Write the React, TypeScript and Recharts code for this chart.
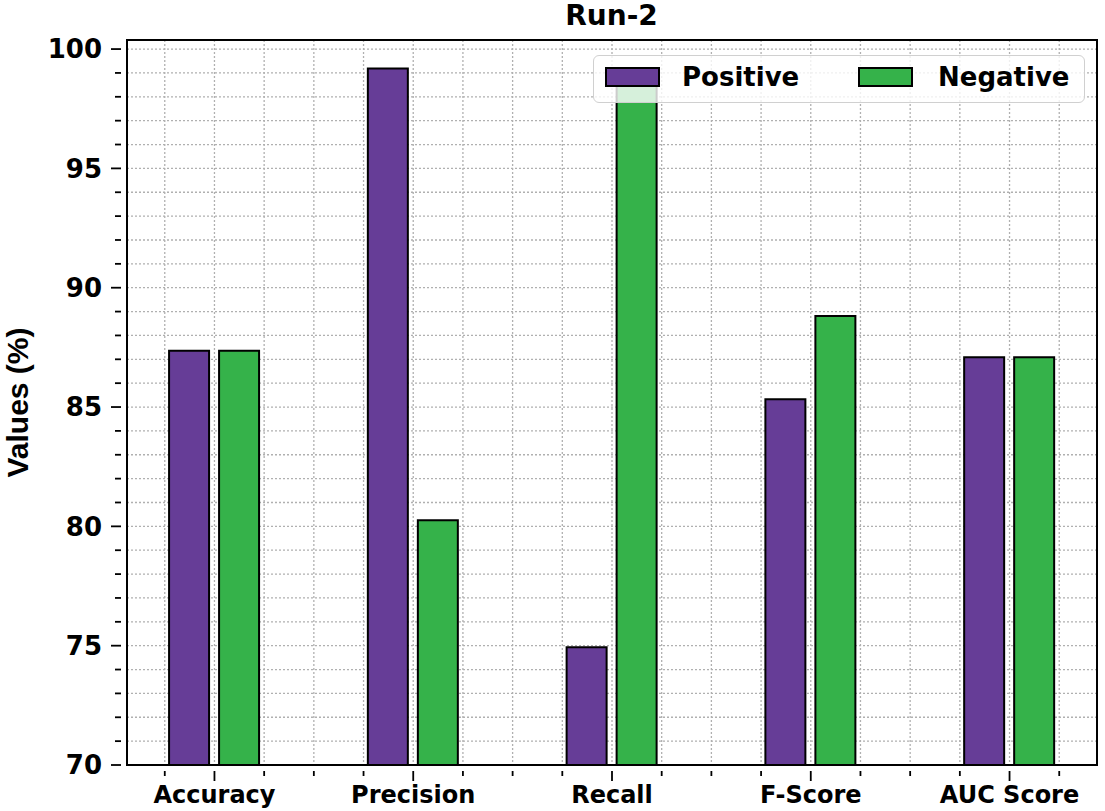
import React from 'react';
import { BarChart, Bar, XAxis, YAxis, CartesianGrid, ReferenceArea, Customized } from 'recharts';

const categories = ['Accuracy', 'Precision', 'Recall', 'F-Score', 'AUC Score'];
const positiveValues = [87.36, 99.19, 74.93, 85.33, 87.09];
const negativeValues = [87.36, 80.26, 98.8, 88.81, 87.09];
const seriesNames = ['Positive', 'Negative'];
const seriesColors = ['#663d97', '#35b24a'];
const yMajorTicks = [70, 75, 80, 85, 90, 95, 100];
const chartTitle = 'Run-2';
const yAxisTitle = 'Values (%)';

const X_DOMAIN: [number, number] = [-0.44, 4.44];
const Y_DOMAIN: [number, number] = [70, 100.38];

const xTicks: number[] = [];
for (let i = -1; i <= 17; i++) xTicks.push(i * 0.25);
const yTicks: number[] = [];
for (let v = 70; v <= 100; v++) yTicks.push(v);

const data = categories.map((name, i) => ({
  x: i,
  name,
  positive: positiveValues[i],
  negative: negativeValues[i],
}));

const FONT = '"DejaVu Sans", sans-serif';

const XTick = (props: any) => {
  const { x, y, payload } = props;
  const v = payload.value as number;
  const major = Math.abs(v - Math.round(v)) < 1e-6;
  const idx = Math.round(v);
  return (
    <g>
      <line x1={x} x2={x} y1={y} y2={y + (major ? 10 : 5)} stroke="#000" strokeWidth={1.8} />
      {major && categories[idx] !== undefined && (
        <text x={x} y={y + 32} textAnchor="middle" fontFamily={FONT} fontWeight="bold" fontSize={24} fill="#000">
          {categories[idx]}
        </text>
      )}
    </g>
  );
};

const YTick = (props: any) => {
  const { x, y, payload } = props;
  const v = payload.value as number;
  const major = yMajorTicks.includes(v);
  return (
    <g>
      <line x1={x} x2={x - (major ? 10 : 6)} y1={y} y2={y} stroke="#000" strokeWidth={1.8} />
      {major && (
        <text x={x - 19} y={y} dy="0.36em" textAnchor="end" fontFamily={FONT} fontWeight="bold" fontSize={26} fill="#000">
          {v}
        </text>
      )}
    </g>
  );
};

const LegendBox = () => (
  <div
    style={{
      position: 'absolute',
      left: 593,
      top: 55,
      width: 492,
      height: 48,
      boxSizing: 'border-box',
      border: '1.5px solid #d0d0d0',
      borderRadius: 6,
      background: 'rgba(255,255,255,0.8)',
      fontFamily: FONT,
      fontWeight: 'bold',
      fontSize: 26,
      color: '#000',
    }}
  >
    {seriesNames.map((name, i) => (
      <React.Fragment key={name}>
        <div
          style={{
            position: 'absolute',
            left: i === 0 ? 11 : 264,
            top: 11,
            width: 55,
            height: 20,
            boxSizing: 'border-box',
            background: seriesColors[i],
            border: '2px solid #000',
          }}
        />
        <div
          style={{
            position: 'absolute',
            left: i === 0 ? 88 : 344,
            top: 4,
            lineHeight: '34px',
            whiteSpace: 'nowrap',
          }}
        >
          {name}
        </div>
      </React.Fragment>
    ))}
  </div>
);

const Title = (props: any) => {
  const off = props.offset || { left: 127, width: 970 };
  return (
    <text
      x={off.left + off.width / 2 - 0.5}
      y={25}
      textAnchor="middle"
      fontFamily={FONT}
      fontWeight="bold"
      fontSize={28}
      fill="#000"
    >
      {chartTitle}
    </text>
  );
};

export default function App() {
  return (
    <div style={{ position: 'absolute', left: 0, top: 0, width: 1105, height: 811, background: '#fff' }}>
      <BarChart
        width={1105}
        height={811}
        data={data}
        margin={{ top: 40, right: 8, bottom: 0, left: 0 }}
        barGap={10}
      >
        <CartesianGrid stroke="#b0b0b0" strokeWidth={1.3} strokeDasharray="2 2" />
        <XAxis
          dataKey="x"
          type="number"
          domain={X_DOMAIN}
          ticks={xTicks}
          interval={0}
          allowDecimals
          allowDataOverflow
          axisLine={false}
          tickLine={false}
          tickMargin={0}
          height={46}
          tick={<XTick />}
        />
        <YAxis
          type="number"
          domain={Y_DOMAIN}
          ticks={yTicks}
          interval={0}
          allowDataOverflow
          axisLine={false}
          tickLine={false}
          tickMargin={0}
          width={127}
          tick={<YTick />}
          label={(p: any) => {
            const vb = p.viewBox || { y: 40, height: 725 };
            const cy = vb.y + vb.height / 2;
            return (
              <text
                x={28}
                y={cy}
                transform={`rotate(-90 28 ${cy})`}
                textAnchor="middle"
                fontFamily='"Liberation Sans", Arial, sans-serif'
                fontWeight="bold"
                fontSize={30}
                fill="#000"
              >
                {yAxisTitle}
              </text>
            );
          }}
        />
        <Bar
          dataKey="positive"
          name={seriesNames[0]}
          fill={seriesColors[0]}
          stroke="#000"
          strokeWidth={2}
          barSize={40}
          isAnimationActive={false}
        />
        <Bar
          dataKey="negative"
          name={seriesNames[1]}
          fill={seriesColors[1]}
          stroke="#000"
          strokeWidth={2}
          barSize={40}
          isAnimationActive={false}
        />
        <ReferenceArea
          x1={X_DOMAIN[0]}
          x2={X_DOMAIN[1]}
          y1={Y_DOMAIN[0]}
          y2={Y_DOMAIN[1]}
          fill="none"
          stroke="#000"
          strokeWidth={2}
          ifOverflow="visible"
        />
        <Customized component={Title} />
      </BarChart>
      <LegendBox />
    </div>
  );
}
